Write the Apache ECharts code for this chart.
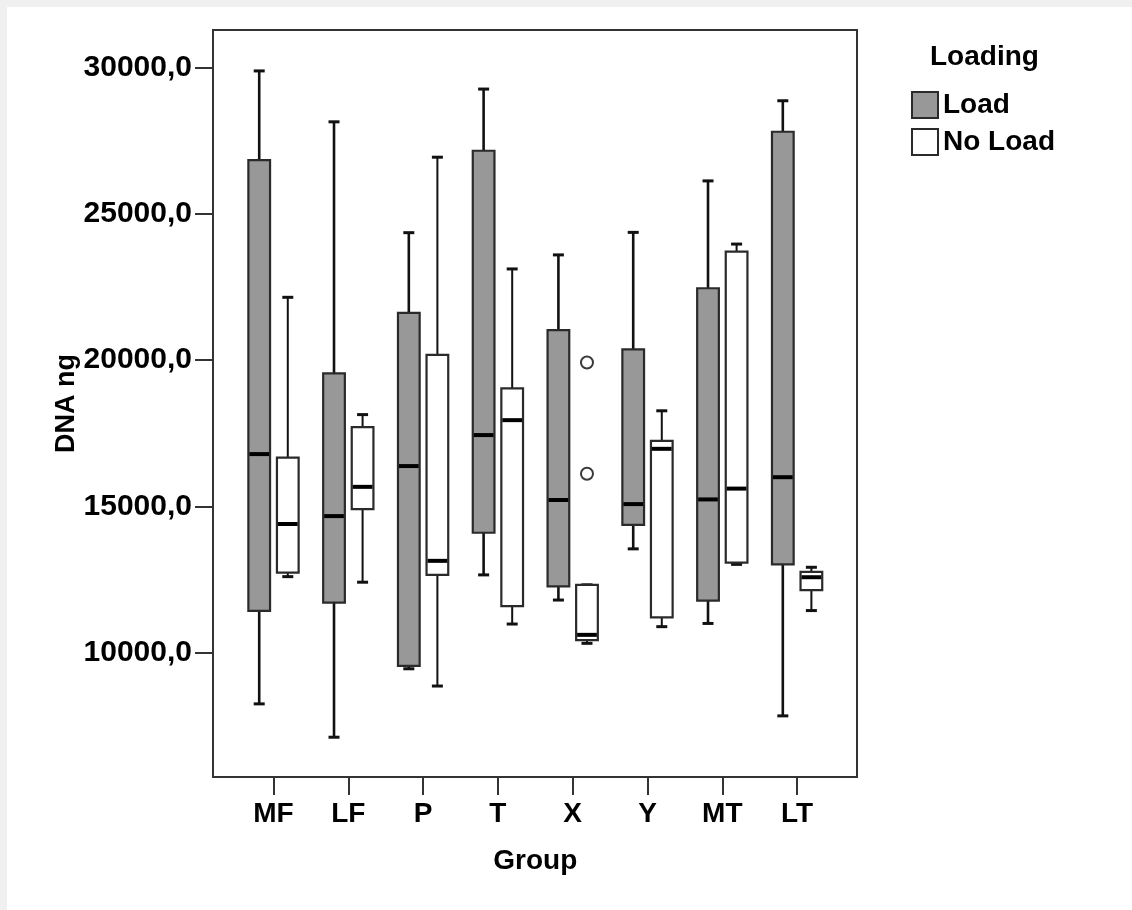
<!DOCTYPE html>
<html>
<head>
<meta charset="utf-8">
<title>DNA ng by Group and Loading</title>
<script src="https://cdn.jsdelivr.net/npm/echarts@6/dist/echarts.min.js"></script>
<style>
  html, body { margin: 0; padding: 0; background: #ffffff; }
  #chart { width: 1132px; height: 910px; }
</style>
</head>
<body>
<div id="chart"></div>
<script>
// Groups on the horizontal axis
const categories = ['MF', 'LF', 'P', 'T', 'X', 'Y', 'MT', 'LT'];

// Box statistics per group: [lower whisker, Q1, median, Q3, upper whisker]
const loadBoxes = [
  [8250, 11430, 16790, 26840, 29890],
  [7110, 11710, 14670, 19550, 28150],
  [9450, 9550, 16380, 21620, 24360],
  [12660, 14100, 17440, 27160, 29270],
  [11800, 12270, 15220, 21030, 23600],
  [13550, 14370, 15080, 20370, 24370],
  [11000, 11780, 15240, 22460, 26130],
  [7840, 13020, 16000, 27810, 28870]
];
const noLoadBoxes = [
  [12600, 12740, 14400, 16670, 22150],
  [12410, 14910, 15670, 17710, 18140],
  [8860, 12660, 13140, 20180, 26940],
  [10980, 11590, 17950, 19040, 23120],
  [10320, 10430, 10610, 12320, 12320],
  [10890, 11210, 16970, 17240, 18270],
  [13020, 13080, 15610, 23710, 23970],
  [11440, 12140, 12580, 12760, 12920]
];

// Outliers of the "No Load" series: [group, value]
const noLoadOutliers = [
  ['X', 19920],
  ['X', 16120]
];

// Y axis tick values
const yTicks = [10000, 15000, 20000, 25000, 30000];

const FONT = "'Liberation Sans', Arial, sans-serif";
const LOAD_FILL = '#989898';
const NO_LOAD_FILL = '#ffffff';
const EDGE = '#2a2a2a';

// Plot frame in pixels
const FRAME = { x: 213, y: 30, w: 644, h: 747 };

function boxRenderer(side, fill, whiskerWidth) {
  return function (params, api) {
    const c = api.value(0);
    const band = api.size([1, 0])[0];
    const off = side * band * 0.191;
    const w = band * 0.29;
    const pLow = api.coord([c, api.value(1)]);
    const pQ1 = api.coord([c, api.value(2)]);
    const pMed = api.coord([c, api.value(3)]);
    const pQ3 = api.coord([c, api.value(4)]);
    const pHigh = api.coord([c, api.value(5)]);
    const x = pLow[0] + off;
    const capW = 11;
    const whisk = { stroke: '#111111', lineWidth: whiskerWidth };
    const cap = { stroke: '#111111', lineWidth: 3 };
    return {
      type: 'group',
      children: [
        { type: 'line', shape: { x1: x, y1: pHigh[1], x2: x, y2: pQ3[1] }, style: whisk },
        { type: 'line', shape: { x1: x, y1: pQ1[1], x2: x, y2: pLow[1] }, style: whisk },
        { type: 'line', shape: { x1: x - capW / 2, y1: pHigh[1], x2: x + capW / 2, y2: pHigh[1] }, style: cap },
        { type: 'line', shape: { x1: x - capW / 2, y1: pLow[1], x2: x + capW / 2, y2: pLow[1] }, style: cap },
        {
          type: 'rect',
          shape: { x: x - w / 2, y: pQ3[1], width: w, height: pQ1[1] - pQ3[1] },
          style: { fill: fill, stroke: EDGE, lineWidth: 2.2 }
        },
        {
          type: 'line',
          shape: { x1: x - w / 2 + 1, y1: pMed[1], x2: x + w / 2 - 1, y2: pMed[1] },
          style: { stroke: '#000000', lineWidth: 4 }
        }
      ]
    };
  };
}

function outlierRenderer(side) {
  return function (params, api) {
    const band = api.size([1, 0])[0];
    const p = api.coord([api.value(0), api.value(1)]);
    return {
      type: 'circle',
      shape: { cx: p[0] + side * band * 0.191, cy: p[1], r: 6 },
      style: { fill: '#ffffff', stroke: '#3a3a3a', lineWidth: 2 }
    };
  };
}

const chart = echarts.init(document.getElementById('chart'), null, { renderer: 'canvas' });

const bandLeft = 236.1;
const bandWidth = 598.4;

chart.setOption({
  animation: false,
  backgroundColor: '#ffffff',
  textStyle: { fontFamily: FONT },
  title: {
    text: 'Loading',
    left: 930,
    top: 41,
    padding: 0,
    textStyle: { fontFamily: FONT, fontSize: 28, fontWeight: 'bold', color: '#000', lineHeight: 32 }
  },
  legend: {
    orient: 'vertical',
    left: 911,
    top: 91,
    padding: 0,
    itemWidth: 26,
    itemHeight: 26,
    itemGap: 9,
    icon: 'rect',
    selectedMode: false,
    textStyle: { fontFamily: FONT, fontSize: 28, fontWeight: 'bold', color: '#000' },
    data: [
      { name: 'Load', itemStyle: { color: LOAD_FILL, borderColor: EDGE, borderWidth: 2 } },
      { name: 'No Load', itemStyle: { color: NO_LOAD_FILL, borderColor: EDGE, borderWidth: 2 } }
    ]
  },
  grid: {
    left: bandLeft,
    width: bandWidth,
    top: FRAME.y,
    height: FRAME.h,
    containLabel: false
  },
  xAxis: {
    type: 'category',
    data: categories,
    boundaryGap: true,
    name: 'Group',
    nameLocation: 'middle',
    nameGap: 70,
    nameTextStyle: { fontFamily: FONT, fontSize: 28, fontWeight: 'bold', color: '#000' },
    axisLine: { show: false },
    axisTick: { show: true, alignWithLabel: true, length: 18, lineStyle: { color: '#333', width: 2 } },
    axisLabel: { margin: 23, fontFamily: FONT, fontSize: 28, fontWeight: 'bold', color: '#000' },
    splitLine: { show: false }
  },
  yAxis: {
    type: 'value',
    min: 5750,
    max: 31289,
    offset: bandLeft - FRAME.x,
    name: 'DNA ng',
    nameLocation: 'middle',
    nameGap: 133,
    nameMoveOverlap: false,
    nameRotate: 90,
    nameTextStyle: { fontFamily: FONT, fontSize: 27, fontWeight: 'bold', color: '#000' },
    axisLine: { show: false },
    axisTick: { show: true, length: 18, customValues: yTicks, lineStyle: { color: '#333', width: 2 } },
    axisLabel: {
      margin: 21,
      customValues: yTicks,
      fontFamily: FONT,
      fontSize: 30,
      fontWeight: 'bold',
      color: '#000',
      formatter: function (v) { return v.toFixed(1).replace('.', ','); }
    },
    splitLine: { show: false }
  },
  graphic: [
    { type: 'rect', shape: { x: 0, y: 0, width: 1132, height: 7 }, style: { fill: '#f0f0f0' }, silent: true, z: -10 },
    { type: 'rect', shape: { x: 0, y: 0, width: 7, height: 910 }, style: { fill: '#f0f0f0' }, silent: true, z: -10 },
    {
      type: 'rect',
      shape: { x: FRAME.x, y: FRAME.y, width: FRAME.w, height: FRAME.h },
      style: { fill: null, stroke: '#333333', lineWidth: 2 },
      silent: true,
      z: 5
    }
  ],
  series: [
    {
      name: 'Load',
      type: 'custom',
      itemStyle: { color: LOAD_FILL, borderColor: EDGE },
      encode: { x: 0, y: [1, 2, 3, 4, 5] },
      renderItem: boxRenderer(-1, LOAD_FILL, 2.6),
      data: categories.map(function (c, i) { return [i].concat(loadBoxes[i]); })
    },
    {
      name: 'No Load',
      type: 'custom',
      itemStyle: { color: NO_LOAD_FILL, borderColor: EDGE },
      encode: { x: 0, y: [1, 2, 3, 4, 5] },
      renderItem: boxRenderer(1, NO_LOAD_FILL, 2),
      data: categories.map(function (c, i) { return [i].concat(noLoadBoxes[i]); })
    },
    {
      name: 'No Load',
      type: 'custom',
      encode: { x: 0, y: 1 },
      renderItem: outlierRenderer(1),
      data: noLoadOutliers.map(function (o) { return [categories.indexOf(o[0]), o[1]]; })
    }
  ]
});
</script>
</body>
</html>
